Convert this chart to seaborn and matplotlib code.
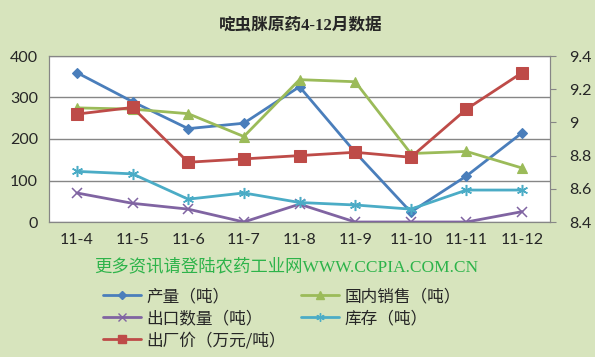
import matplotlib
matplotlib.use('Agg')
import matplotlib.pyplot as plt
import seaborn as sns
import pandas as pd
from matplotlib.lines import Line2D

months = ['11-4', '11-5', '11-6', '11-7', '11-8', '11-9', '11-10', '11-11', '11-12']
production = [360, 290, 225, 238, 326, 168, 24, 111, 215]
domestic_sales = [275, 272, 261, 206, 343, 338, 165, 170, 130]
export_qty = [70, 45, 31, 0, 43, 0, 0, 0, 25]
stock = [122, 116, 55, 70, 47, 41, 31, 77, 77]
price = [9.05, 9.09, 8.76, 8.78, 8.80, 8.82, 8.79, 9.08, 9.30]

labels = ['产量（吨）', '国内销售（吨）', '出口数量（吨）', '库存（吨）', '出厂价（万元/吨）']
colors = ['#4A7EBB', '#9BBB59', '#8064A2', '#4BACC6', '#BE4B48']
markers = ['D', '^', 'x', (6, 2, 0), 's']
msizes = [5.5, 7.5, 7, 8, 8]

bg = '#D7E4BD'
sns.set_style('white')
plt.rcParams['font.family'] = ['Lato', 'Noto Sans CJK SC', 'DejaVu Sans']

df = pd.DataFrame({'month': months, 'production': production, 'domestic': domestic_sales,
                   'export': export_qty, 'stock': stock, 'price': price})
df['x'] = range(len(months))

fig = plt.figure(figsize=(5.95, 3.57), dpi=100)
fig.patch.set_facecolor(bg)
ax = fig.add_axes([49 / 595, 1 - 222 / 357, (550 - 49) / 595, (222 - 56) / 357])
ax.set_facecolor('white')

for col, c, m, ms in zip(['production', 'domestic', 'export', 'stock'], colors[:4], markers[:4], msizes[:4]):
    sns.lineplot(data=df, x='x', y=col, ax=ax, color=c, marker=m, markersize=ms,
                 markeredgecolor=c, markeredgewidth=1.1 if m in ('x', (6, 2, 0)) else 0.8,
                 linewidth=2, zorder=3)

ax.set_ylim(0, 400)
ax.set_yticks([0, 100, 200, 300, 400])
ax.set_xlim(-0.5, len(months) - 0.5)
ax.set_xticks(range(len(months)))
ax.set_xticklabels(months)
ax.yaxis.grid(True, color='#868686', linewidth=1)
ax.set_axisbelow(True)
ax.set_xlabel('')
ax.set_ylabel('')
for s in ax.spines.values():
    s.set_color('#868686')
ax.tick_params(axis='both', length=0, labelsize=11.5, pad=8)

ax2 = ax.twinx()
sns.lineplot(data=df, x='x', y='price', ax=ax2, color=colors[4], marker='s', markersize=8,
             markeredgecolor=colors[4], linewidth=2, zorder=4)
ax2.set_ylim(8.4, 9.4)
ax2.set_yticks([8.4, 8.6, 8.8, 9.0, 9.2, 9.4])
ax2.set_yticklabels(['8.4', '8.6', '8.8', '9', '9.2', '9.4'])
ax2.set_ylabel('')
ax2.tick_params(axis='y', length=4, color='#868686', labelsize=11.5, pad=10)
for s in ax2.spines.values():
    s.set_color('#868686')

fig.text(0.505, 1 - 25 / 357, '啶虫脒原药4-12月数据', ha='center', va='center',
         fontsize=12, fontweight='bold', family=['Liberation Serif', 'Noto Sans CJK SC'])
fig.text(94 / 595, 1 - 267 / 357, '更多资讯请登陆农药工业网WWW.CCPIA.COM.CN', ha='left', va='center',
         fontsize=12.5, color='#2DB34A', family=['Liberation Serif', 'Noto Sans CJK SC'])

handles = [Line2D([], [], color=c, marker=m, markersize=ms * 0.75, linewidth=2,
                  markeredgecolor=c) for c, m, ms in zip(colors, markers, msizes)]
order = [0, 2, 4, 1, 3]
leg = fig.legend([handles[i] for i in order], [labels[i] for i in order], ncol=2,
                 loc='upper left', bbox_to_anchor=(88 / 595, 1 - 273 / 357),
                 frameon=False, fontsize=12, handlelength=2.3, handletextpad=0.3,
                 columnspacing=0.9, labelspacing=0.3)
for t in leg.get_texts():
    t.set_family(['Noto Sans CJK SC', 'DejaVu Sans'])

fig.savefig('out.png', dpi=100, facecolor=bg)
